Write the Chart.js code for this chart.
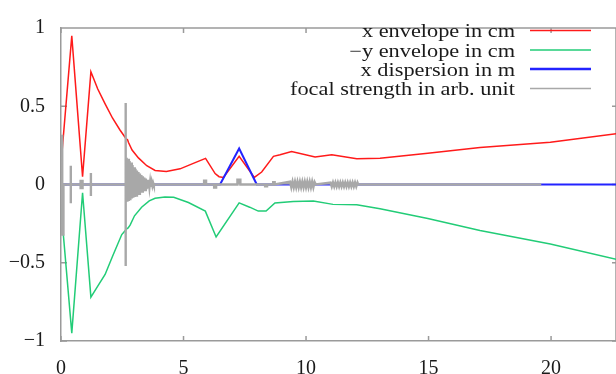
<!DOCTYPE html>
<html>
<head>
<meta charset="utf-8">
<script src="https://cdn.jsdelivr.net/npm/chart.js@4.4.0/dist/chart.umd.min.js"></script>
<style>
html,body{margin:0;padding:0;background:#fff;}
#wrap{width:616px;height:374px;position:relative;}
</style>
</head>
<body>
<div id="wrap"><canvas id="c" width="616" height="374"></canvas></div>
<script>
// ---- data ----
const seriesLabels = ['x envelope in cm', '\u2212y envelope in cm', 'x dispersion in m', 'focal strength in arb. unit'];
const xTicks = [0, 5, 10, 15, 20];
const yTicks = [-1, -0.5, 0, 0.5, 1];
const yTickLabels = ['\u22121', '\u22120.5', '0', '0.5', '1'];

const envX = [[0,0.13],[0.44,0.95],[0.88,0.05],[1.22,0.72],[1.5,0.61],[1.8,0.515],[2.1,0.425],[2.4,0.35],[2.62,0.30],[2.68,0.29],[2.72,0.285],[2.75,0.27],[2.9,0.22],[3.16,0.17],[3.5,0.12],[3.84,0.09],[4.3,0.083],[4.86,0.10],[5.4,0.135],[5.9,0.167],[6.29,0.07],[6.45,0.05],[6.63,0.045],[7.27,0.18],[7.89,0.045],[8.19,0.08],[8.67,0.18],[8.94,0.19],[9.41,0.21],[10.37,0.176],[11.05,0.19],[12.07,0.164],[13.02,0.167],[14.97,0.20],[17.1,0.237],[19.97,0.27],[22.7,0.325]];
const envY = [[0,-0.145],[0.44,-0.95],[0.88,-0.053],[1.22,-0.72],[1.5,-0.65],[1.8,-0.575],[2.1,-0.46],[2.48,-0.32],[2.68,-0.284],[2.74,-0.278],[2.82,-0.26],[3.0,-0.2],[3.29,-0.145],[3.6,-0.105],[3.84,-0.088],[4.24,-0.08],[4.6,-0.082],[5.2,-0.115],[5.89,-0.17],[6.33,-0.335],[7.27,-0.117],[7.7,-0.145],[8.05,-0.17],[8.37,-0.17],[8.73,-0.118],[9.48,-0.108],[10.3,-0.106],[11.1,-0.127],[12.07,-0.13],[13.02,-0.155],[14.97,-0.217],[17.1,-0.294],[19.97,-0.38],[22.7,-0.48]];
const dispersion = [[0,0],[6.49,0],[7.27,0.23],[7.99,0],[22.7,0]];
const focal = [[0,0.31],[0.05,0.31],[0.05,-0.32],[0.1,-0.32],[0.1,0],
 [0.40,0],[0.40,0.12],[0.40,-0.12],[0.40,0],
 [0.80,0],[0.80,0.022],[0.88,0.022],[0.88,-0.022],[0.80,-0.022],[0.80,0],[0.88,0],
 [1.22,0],[1.22,0.074],[1.22,-0.074],[1.22,0],
 [2.64,0],[2.64,0.52],[2.64,-0.52],[2.64,0],
 [2.68,0.17],[2.71,-0.11],[2.74,0.165],[2.77,-0.105],[2.80,0.15],[2.83,-0.10],[2.86,0.14],[2.89,-0.09],[2.92,0.125],[2.95,-0.085],[2.98,0.11],[3.01,-0.08],[3.04,0.10],[3.07,-0.07],[3.10,0.09],[3.13,-0.065],[3.16,0.08],[3.19,-0.06],[3.22,0.07],[3.25,-0.05],[3.28,0.06],[3.31,-0.045],[3.34,0.052],[3.37,-0.04],[3.40,0.045],[3.43,-0.035],[3.46,0.038],[3.49,-0.03],[3.52,0.03],[3.55,-0.025],[3.58,0.025],[3.61,-0.02],[3.64,0.02],[3.67,-0.015],[3.70,0.015],[3.73,-0.01],[3.76,0.01],[3.79,-0.006],[3.82,0],
 [5.84,0],[5.84,0.025],[5.92,0.025],[5.92,0],
 [6.25,0],[6.25,-0.02],[6.33,-0.02],[6.33,0],
 [7.20,0],[7.20,0.03],[7.32,0.03],[7.32,0],
 [8.33,0],[8.33,-0.012],[8.41,-0.012],[8.41,0],
 [8.66,0],[8.66,0.014],[8.72,0.014],[8.72,0],
 [9.35,0.018],[9.40,-0.018],[9.45,0.018],[9.50,-0.018],[9.55,0.018],[9.60,-0.018],[9.65,0.018],[9.70,-0.018],[9.75,0.018],[9.80,-0.018],[9.85,0.018],[9.90,-0.018],[9.95,0.018],[10.00,-0.018],[10.05,0.018],[10.10,-0.018],[10.15,0.018],[10.20,-0.018],[10.25,0.018],[10.30,-0.018],[10.35,0.016],[10.40,0],
 [11.00,0.013],[11.05,-0.013],[11.10,0.013],[11.15,-0.013],[11.20,0.013],[11.25,-0.013],[11.30,0.013],[11.35,-0.013],[11.40,0.013],[11.45,-0.013],[11.50,0.013],[11.55,-0.013],[11.60,0.013],[11.65,-0.013],[11.70,0.013],[11.75,-0.013],[11.80,0.013],[11.85,-0.013],[11.90,0.013],[11.95,-0.013],[12.00,0.013],[12.05,-0.013],[12.10,0.012],[12.13,0],
 [19.6,0]];

const colors = ['#ff1a1a', '#22cc77', '#2323ff', '#a8a8a8'];
const widths = [1.5, 1.5, 2.0, 2.4];
const legendWidths = [1.5, 1.5, 2.5, 1.4];
const frameColor = '#9a9a9a';
const textColor = '#1a1a1a';
const fontFamily = '"Liberation Serif", "DejaVu Serif", serif';

const toXY = arr => arr.map(p => ({x: p[0], y: p[1]}));
const seriesData = [envX, envY, dispersion, focal];
const orders = [3, 2, 1, 0];

const frameAndLegend = {
  id: 'frameAndLegend',
  beforeDatasetsDraw(chart) {
    const {ctx, chartArea: a, scales} = chart;
    ctx.save();
    ctx.strokeStyle = frameColor;
    ctx.lineWidth = 1.5;
    ctx.beginPath();
    ctx.moveTo(a.left, a.top); ctx.lineTo(a.right + 2, a.top);
    ctx.moveTo(a.right, a.top); ctx.lineTo(a.right, a.bottom);
    const tl = 5;
    xTicks.forEach(v => {
      const px = scales.x.getPixelForValue(v);
      ctx.moveTo(px, a.bottom); ctx.lineTo(px, a.bottom - tl);
      ctx.moveTo(px, a.top); ctx.lineTo(px, a.top + tl);
    });
    yTicks.forEach(v => {
      const py = scales.y.getPixelForValue(v);
      ctx.moveTo(a.left, py); ctx.lineTo(a.left + 6, py);
      ctx.moveTo(a.right, py); ctx.lineTo(a.right - 4, py);
    });
    ctx.stroke();
    ctx.restore();
  },
  afterDatasetsDraw(chart) {
    const {ctx} = chart;
    ctx.save();
    const textRight = 515, lineL = 530, lineR = 591;
    const rows = [30.5, 50, 69, 88.5];
    chart.data.datasets.forEach((ds, i) => {
      const y = rows[i];
      ctx.strokeStyle = ds.borderColor;
      ctx.lineWidth = legendWidths[i];
      ctx.beginPath(); ctx.moveTo(lineL, y); ctx.lineTo(lineR, y); ctx.stroke();
      ctx.save();
      ctx.translate(textRight, y + 6.5);
      ctx.scale(1.24, 1);
      ctx.fillStyle = textColor;
      ctx.font = '18px ' + fontFamily;
      ctx.textAlign = 'right';
      ctx.textBaseline = 'alphabetic';
      ctx.fillText(ds.label, 0, 0);
      ctx.restore();
    });
    ctx.restore();
  }
};

new Chart(document.getElementById('c'), {
  type: 'scatter',
  data: {
    datasets: seriesData.map((d, i) => ({
      label: seriesLabels[i],
      data: toXY(d),
      showLine: true,
      borderColor: colors[i],
      backgroundColor: colors[i],
      borderWidth: widths[i],
      pointRadius: 0,
      pointHoverRadius: 0,
      tension: 0,
      fill: i === 3 ? 'origin' : false,
      order: orders[i]
    }))
  },
  options: {
    responsive: false,
    animation: false,
    devicePixelRatio: 1,
    layout: {padding: {top: 15, right: 0, left: 0, bottom: 0}},
    plugins: {legend: {display: false}, tooltip: {enabled: false}, filler: {propagate: false}},
    scales: {
      x: {
        type: 'linear', min: 0, max: 22.65,
        afterBuildTicks: s => { s.ticks = xTicks.map(v => ({value: v})); },
        afterFit: s => { s.height = 33; },
        grid: {display: false, drawTicks: false},
        border: {display: true, color: frameColor, width: 1.5},
        ticks: {padding: 16, color: textColor, font: {family: fontFamily, size: 20}, maxRotation: 0, callback: v => String(v)}
      },
      y: {
        type: 'linear', min: -1, max: 1,
        afterBuildTicks: s => { s.ticks = yTicks.map(v => ({value: v})); },
        afterFit: s => { s.width = 61; },
        grid: {display: false, drawTicks: false},
        border: {display: true, color: frameColor, width: 1.5},
        ticks: {padding: 16, color: textColor, font: {family: fontFamily, size: 20},
          callback: v => yTickLabels[yTicks.indexOf(v)]}
      }
    }
  },
  plugins: [frameAndLegend]
});
</script>
</body>
</html>
